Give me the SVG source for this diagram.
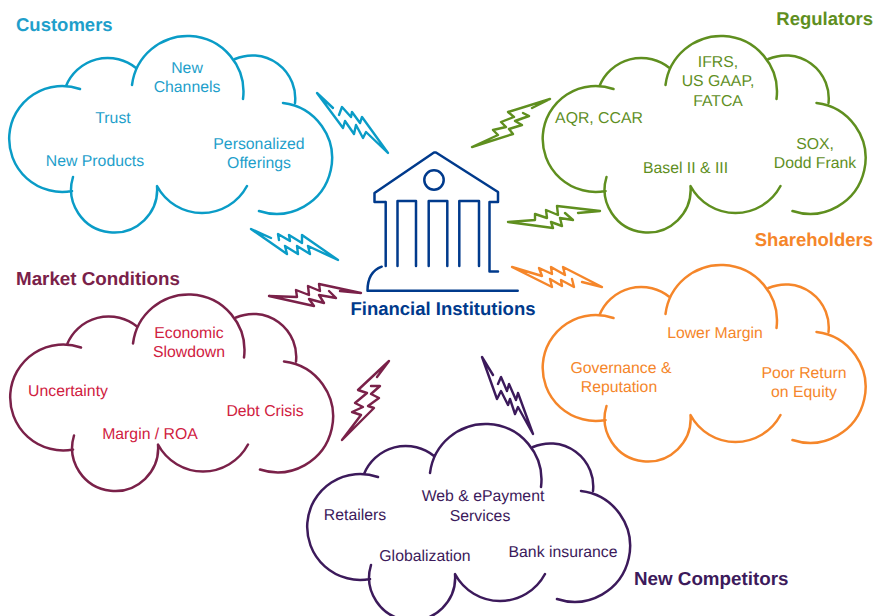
<svg xmlns="http://www.w3.org/2000/svg" width="875" height="616" viewBox="0 0 875 616">
<style>
text{font-family:"Liberation Sans",Arial,sans-serif;font-size:15.8px;text-anchor:middle;text-rendering:geometricPrecision}
.h{font-size:18.5px;font-weight:bold;text-anchor:start}
.w{font-size:18.8px}
.e{text-anchor:end}
.cloud,.bolt,.bank{fill:none;stroke-linecap:round;stroke-linejoin:round}
.cloud{stroke-width:2.5}
.bolt{stroke-width:2.4}
.bank{stroke:#003a8c;stroke-width:2.5}
.cu{stroke:#0a9cc7}.cut{fill:#1f9fcb}
.re{stroke:#5f8f1f}.ret{fill:#5f8f1f}
.sh{stroke:#f5862a}.sht{fill:#f5862a}
.ma{stroke:#7a2149}.mah{fill:#7a2149}.mat{fill:#d0213f}
.ne{stroke:#3c1a5b}.net{fill:#3c1a5b}
</style>
<defs>
<path id="c" d="M80,89A53,53 0 1 0 72,191M66,86A45,45 0 0 1 136,68M132,85A56,56 0 0 1 190,36A56,56 0 0 1 243,99M235,59A43,43 0 0 1 295,103M283,103A55.600,55.600 0 1 1 259,211M247,186A51,51 0 0 1 157,186A43,43 0 1 1 73,177"/>
</defs>
<g id="connectors">
<path class="bolt cu" d="M333,108L317,93L343,128L345,121L354,134L356,125L363,138L366,132L388,153L362,117L360,123L352,112L351,117L342,107L339,115"/>
<path class="bolt cu" d="M271,238L251,229L287,254L285,246L298,254L297,246L310,254L308,246L338,260L302,235L302,243L289,235L290,241L278,234L279,240"/>
<path class="bolt re" d="M532,108L550,99L508,112L514,117L501,122L506,127L493,130L498,135L472,147L513,134L509,129L522,125L515,121L529,116L523,113"/>
<path class="bolt re" d="M578,213L600,211L557,206L558,215L546,210L547,218L535,214L535,220L508,222L553,228L551,222L562,226L560,218L573,220L565,213"/>
<path class="bolt sh" d="M582,282L602,287L563,267L565,275L551,267L552,274L539,268L542,276L512,267L552,287L550,279L562,286L561,280L574,287L572,279"/>
<path class="bolt ma" d="M340,291L361,293L319,284L320,291L308,286L309,295L296,290L297,297L269,296L314,306L309,299L324,303L319,295L336,298L329,291"/>
<path class="bolt ma" d="M377,377L389,361L358,390L367,393L355,403L363,407L352,412L361,415L342,440L374,408L368,406L379,398L371,394L380,386L371,386"/>
<path class="bolt ne" d="M493,375L482,357L497,399L501,391L508,405L510,399L515,414L518,407L533,434L518,393L516,400L509,384L507,391L501,377L498,384"/>
</g>
<g id="customers">
<use href="#c" class="cloud cu"/>
<text class="h cut" x="16" y="31">Customers</text>
<g class="cut"><text x="187" y="73">New</text><text x="187" y="92">Channels</text><text x="113" y="123">Trust</text><text x="95" y="166">New Products</text><text x="259" y="149">Personalized</text><text x="259" y="168">Offerings</text></g>
</g>
<g id="regulators">
<use href="#c" class="cloud re" x="533.500"/>
<text class="h e ret" x="873" y="25">Regulators</text>
<g class="ret"><text x="718" y="67">IFRS,</text><text x="718" y="86">US GAAP,</text><text x="718" y="106">FATCA</text><text x="599" y="123">AQR, CCAR</text><text x="685.500" y="173">Basel II &amp; III</text><text x="815" y="149">SOX,</text><text x="815" y="168">Dodd Frank</text></g>
</g>
<g id="shareholders">
<use href="#c" class="cloud sh" x="533.500" y="229"/>
<text class="h e sht" x="873" y="246">Shareholders</text>
<g class="sht"><text x="715" y="338">Lower Margin</text><text x="621" y="373">Governance &amp;</text><text x="619" y="392">Reputation</text><text x="804" y="378">Poor Return</text><text x="804" y="397">on Equity</text></g>
</g>
<g id="market-conditions">
<use href="#c" class="cloud ma" x="1" y="258.500"/>
<text class="h w mah" x="16" y="285">Market Conditions</text>
<g class="mat"><text x="189" y="338">Economic</text><text x="189" y="357">Slowdown</text><text x="68" y="396">Uncertainty</text><text x="265" y="416">Debt Crisis</text><text x="150" y="439">Margin / ROA</text></g>
</g>
<g id="new-competitors">
<use href="#c" class="cloud ne" x="298" y="388"/>
<text class="h w net" x="634" y="585">New Competitors</text>
<g class="net"><text x="483" y="501">Web &amp; ePayment</text><text x="480" y="521">Services</text><text x="355" y="520">Retailers</text><text x="425" y="561">Globalization</text><text x="563" y="557">Bank insurance</text></g>
</g>
<g id="financial-institutions">
<path class="bank" d="M385,202H374.500V193L434,152.500H436L498,192V202H489.500V271.500H498M385.700,202V266M397.500,266V201H416V266M428.700,266V201H447.300V266M459.300,266V201H479V266M381.700,266.700Q367.500,272 367.500,290.700H517.700"/>
<circle class="bank" cx="434" cy="180" r="9.700"/>
<text class="h" style="text-anchor:middle;fill:#003a8c" x="443" y="315">Financial Institutions</text>
</g>
</svg>
